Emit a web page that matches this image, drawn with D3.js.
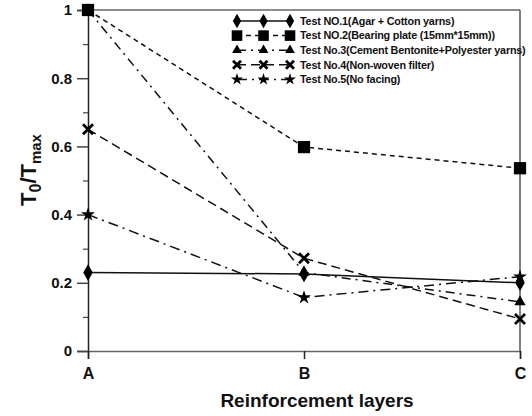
<!DOCTYPE html>
<html>
<head>
<meta charset="utf-8">
<script src="https://cdn.jsdelivr.net/npm/d3@7"></script>
<style>
  body { margin: 0; background: #fff; }
  svg { font-family: "Liberation Sans", Arial, sans-serif; font-weight: bold; }
</style>
</head>
<body>
<svg id="chart" width="532" height="416"></svg>
<script>
// categories and series
const layers = ['A', 'B', 'C']
const test1 = [0.23, 0.226, 0.20]
const test2 = [1.0, 0.598, 0.536]
const test3 = [1.0, 0.23, 0.144]
const test4 = [0.65, 0.272, 0.094]
const test5 = [0.40, 0.157, 0.218]
const seriesNames = [
  'Test NO.1(Agar + Cotton yarns)',
  'Test NO.2(Bearing plate (15mm*15mm))',
  'Test No.3(Cement Bentonite+Polyester yarns)',
  'Test No.4(Non-woven filter)',
  'Test No.5(No facing)'
]
const yTicks = [0, 0.2, 0.4, 0.6, 0.8, 1]
const yMinorTicks = [0.1, 0.3, 0.5, 0.7, 0.9]

const series = [
  { name: seriesNames[0], values: test1, dash: null, symbol: d3.symbolDiamond, size: 80 },
  { name: seriesNames[1], values: test2, dash: '5,4', symbol: d3.symbolSquare, size: 150 },
  { name: seriesNames[2], values: test3, dash: '9,5,2,5', symbol: d3.symbolTriangle, size: 55 },
  { name: seriesNames[3], values: test4, dash: '9,5', symbol: 'x', size: 10 },
  { name: seriesNames[4], values: test5, dash: '10,5,2,5', symbol: d3.symbolStar, size: 60 }
]

const margin = { top: 10, right: 12, bottom: 65, left: 88 }
const width = 532 - margin.left - margin.right
const height = 416 - margin.top - margin.bottom

const svg = d3.select('#chart')
const g = svg.append('g').attr('transform', `translate(${margin.left},${margin.top})`)

const x = d3.scalePoint().domain(layers).range([0, width])
const y = d3.scaleLinear().domain([0, 1]).range([height, 0])

// frame (top & right)
g.append('line').attr('x1', 0).attr('x2', width).attr('y1', 0).attr('y2', 0)
  .attr('stroke', '#666').attr('stroke-width', 1.5)
g.append('line').attr('x1', width).attr('x2', width).attr('y1', 0).attr('y2', height)
  .attr('stroke', '#555').attr('stroke-width', 1.5)

// y axis
const yAxis = g.append('g')
  .call(d3.axisLeft(y).tickValues(yTicks).tickSize(11).tickPadding(5)
    .tickFormat(d => d === 0 || d === 1 ? d3.format('d')(d) : d3.format('.1f')(d)))
yAxis.select('.domain').attr('stroke', '#222').attr('stroke-width', 1.5)
yAxis.selectAll('.tick line').attr('stroke', '#444').attr('stroke-width', 1.5)
yAxis.selectAll('.tick text').attr('font-size', 15).attr('font-weight', 'bold').attr('fill', '#111')
  .attr('font-family', '"Liberation Sans", Arial, sans-serif')
g.append('g').call(d3.axisLeft(y).tickValues(yMinorTicks).tickSize(5).tickFormat(''))
  .call(s => s.select('.domain').remove())
  .selectAll('.tick line').attr('stroke', '#444').attr('stroke-width', 1.2)

// x axis
const xAxis = g.append('g').attr('transform', `translate(0,${height})`)
  .call(d3.axisBottom(x).tickSize(8).tickPadding(9))
xAxis.select('.domain').attr('stroke', '#666').attr('stroke-width', 1.5)
xAxis.selectAll('.tick line').attr('stroke', '#222').attr('stroke-width', 1.5)
xAxis.selectAll('.tick text').attr('font-size', 16).attr('font-weight', 'bold').attr('fill', '#111')
  .attr('font-family', '"Liberation Sans", Arial, sans-serif')

// axis titles
svg.append('text')
  .attr('x', 317).attr('y', 407)
  .attr('text-anchor', 'middle')
  .attr('font-size', 19)
  .attr('fill', '#111')
  .text('Reinforcement layers')

const yTitle = svg.append('text')
  .attr('transform', 'translate(36,170) rotate(-90)')
  .attr('text-anchor', 'middle')
  .attr('font-size', 22)
  .attr('fill', '#111')
yTitle.append('tspan').text('T')
yTitle.append('tspan').attr('font-size', 16).attr('dy', 5).text('0')
yTitle.append('tspan').attr('dy', -5).text('/T')
yTitle.append('tspan').attr('font-size', 15).attr('dy', 5).text('max')

function drawSymbol(sel, s) {
  if (s.symbol === 'x') {
    const r = s.size / 2
    sel.append('path')
      .attr('d', `M${-r},${-r}L${r},${r}M${-r},${r}L${r},${-r}`)
      .attr('stroke', '#000').attr('stroke-width', 2.8).attr('fill', 'none')
  } else {
    sel.append('path')
      .attr('d', d3.symbol().type(s.symbol).size(s.size)())
      .attr('fill', '#000')
  }
}

const line = d3.line()
  .x((d, i) => x(layers[i]))
  .y(d => y(d))

// lines
series.forEach(s => {
  g.append('path')
    .datum(s.values)
    .attr('d', line)
    .attr('fill', 'none')
    .attr('stroke', '#111')
    .attr('stroke-width', 1.5)
    .attr('stroke-dasharray', s.dash)
})

// markers (draw later series first so squares / diamonds sit on top)
series.slice().reverse().forEach(s => {
  s.values.forEach((v, i) => {
    const m = g.append('g').attr('transform', `translate(${x(layers[i])},${y(v)})`)
    drawSymbol(m, s)
  })
})

// legend
const legend = svg.append('g').attr('transform', 'translate(237,21)')
const legX = d3.scalePoint().domain([0, 1, 2]).range([0, 53])
series.forEach((s, k) => {
  const row = legend.append('g').attr('transform', `translate(0,${k * 14.6})`)
  row.append('line')
    .attr('x1', legX(0)).attr('x2', legX(2))
    .attr('stroke', '#111').attr('stroke-width', 1.5)
    .attr('stroke-dasharray', s.dash)
  legX.domain().forEach(j => {
    const m = row.append('g').attr('transform', `translate(${legX(j)},0)`)
    drawSymbol(m, Object.assign({}, s, { size: s.symbol === 'x' ? 8 : s.size * 0.75 }))
  })
  row.append('text')
    .attr('x', 63).attr('dy', '0.35em')
    .attr('font-size', 10.8)
    .attr('letter-spacing', -0.2)
    .attr('fill', '#111')
    .text(s.name)
})
</script>
</body>
</html>
